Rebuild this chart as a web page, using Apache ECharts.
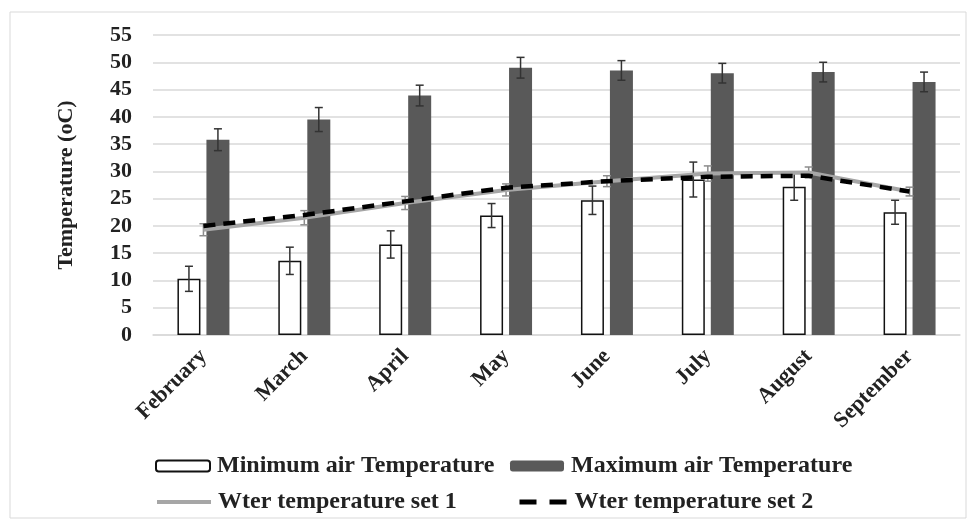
<!DOCTYPE html>
<html>
<head>
<meta charset="utf-8">
<title>Air and water temperature</title>
<script src="https://cdn.jsdelivr.net/npm/echarts@6/dist/echarts.min.js"></script>
<style>
  html, body { margin: 0; padding: 0; background: #fff; }
  #chart { width: 973px; height: 522px; }
</style>
</head>
<body>
<div id="chart"></div>
<script>
// values
const months = ["February", "March", "April", "May", "June", "July", "August", "September"];
const minAir = [10.3, 13.6, 16.6, 21.9, 24.7, 28.5, 27.2, 22.5];
const minAirErr = [2.3, 2.5, 2.5, 2.2, 2.6, 3.2, 2.5, 2.2];
const maxAir = [35.8, 39.5, 43.9, 49.0, 48.5, 48.0, 48.2, 46.4];
const maxAirErr = [2.0, 2.2, 1.9, 1.9, 1.8, 1.8, 1.8, 1.8];
const waterSet1 = [19.3, 21.5, 24.2, 26.6, 28.2, 29.6, 29.8, 26.3];
const waterSet1Err = [1.1, 1.3, 1.2, 1.1, 1.0, 1.4, 1.0, 0.8];
const waterSet2 = [20.0, 22.0, 24.5, 27.0, 28.2, 29.0, 29.2, 26.3];

const FONT = "'Liberation Serif', 'Times New Roman', serif";
const BAR_W = 23;
const BAR_GAP = 0.26;           // fraction of bar width
const SHIFT = (BAR_W + BAR_W * BAR_GAP) / 2;

// error bars drawn via custom series, x shifted to sit on the bar
function errorSeries(name, vals, errs, shift, color) {
  return {
    name: name,
    type: "custom",
    z: 4,
    silent: true,
    data: vals.map(function (v, i) { return [i, v, errs[i]]; }),
    renderItem: function (params, api) {
      const i = api.value(0), v = api.value(1), e = api.value(2);
      const top = api.coord([i, v + e]);
      const bot = api.coord([i, v - e]);
      const x = top[0] + shift;
      const cap = 4;
      const style = { stroke: color, lineWidth: 1.5 };
      return {
        type: "group",
        children: [
          { type: "line", shape: { x1: x, y1: top[1], x2: x, y2: bot[1] }, style: style },
          { type: "line", shape: { x1: x - cap, y1: top[1], x2: x + cap, y2: top[1] }, style: style },
          { type: "line", shape: { x1: x - cap, y1: bot[1], x2: x + cap, y2: bot[1] }, style: style }
        ]
      };
    }
  };
}

function legendAt(name, left, top, extra) {
  return Object.assign({
    data: [name],
    left: left,
    top: top,
    itemWidth: 54,
    itemHeight: 11,
    itemGap: 12,
    selectedMode: false,
    textStyle: { fontFamily: FONT, fontSize: 24, fontWeight: "bold", color: "#222", padding: [0, 0, 0, 2] }
  }, extra || {});
}

const chart = echarts.init(document.getElementById("chart"), null, { renderer: "canvas" });

const option = {
  animation: false,
  backgroundColor: "#fff",
  graphic: [{
    type: "rect",
    shape: { x: 10, y: 12, width: 956, height: 506 },
    style: { fill: "none", stroke: "#d9d9d9", lineWidth: 1 },
    silent: true,
    z: -1
  }],
  grid: { left: 153, right: 13, top: 35, bottom: 187, containLabel: false },
  legend: [
    legendAt("Minimum air Temperature", 150, 449, { itemStyle: { borderWidth: 2 } }),
    legendAt("Maximum air Temperature", 505, 449),
    legendAt("Wter temperature set 1", 150, 485, {
      itemHeight: 14,
      itemStyle: { opacity: 0 },
      lineStyle: { width: 4 }
    }),
    legendAt("Wter temperature set 2", 512, 485, {
      itemWidth: 48,
      itemHeight: 14,
      itemStyle: { opacity: 0 },
      lineStyle: { width: 5, type: [17, 13] }
    })
  ],
  xAxis: {
    type: "category",
    data: months,
    axisTick: { show: false },
    axisLine: { lineStyle: { color: "#d9d9d9", width: 1.5 } },
    axisLabel: {
      rotate: 45,
      margin: 18,
      interval: 0,
      fontFamily: FONT,
      fontSize: 22,
      fontWeight: "bold",
      color: "#222"
    }
  },
  yAxis: {
    type: "value",
    min: 0,
    max: 55,
    interval: 5,
    name: "Temperature (oC)",
    nameLocation: "middle",
    nameGap: 76,
    nameTextStyle: { fontFamily: FONT, fontSize: 22, fontWeight: "bold", color: "#222" },
    axisLine: { show: false },
    axisTick: { show: false },
    splitLine: { lineStyle: { color: "#d9d9d9", width: 1.5 } },
    axisLabel: {
      margin: 21,
      fontFamily: FONT,
      fontSize: 22,
      fontWeight: "bold",
      color: "#222"
    }
  },
  series: [
    {
      name: "Minimum air Temperature",
      type: "bar",
      data: minAir,
      barWidth: BAR_W,
      barGap: (BAR_GAP * 100) + "%",
      itemStyle: { color: "#fff", borderColor: "#111", borderWidth: 1.5 }
    },
    {
      name: "Maximum air Temperature",
      type: "bar",
      data: maxAir,
      barWidth: BAR_W,
      barGap: (BAR_GAP * 100) + "%",
      itemStyle: { color: "#595959" }
    },
    errorSeries("minErr", minAir, minAirErr, -SHIFT, "#333"),
    errorSeries("maxErr", maxAir, maxAirErr, SHIFT, "#333"),
    errorSeries("set1Err", waterSet1, waterSet1Err, 0, "#8c8c8c"),
    {
      name: "Wter temperature set 1",
      type: "line",
      data: waterSet1,
      z: 5,
      symbol: "none",
      lineStyle: { color: "#a6a6a6", width: 4 },
      itemStyle: { color: "#a6a6a6" }
    },
    {
      name: "Wter temperature set 2",
      type: "line",
      data: waterSet2,
      z: 6,
      symbol: "none",
      lineStyle: { color: "#000", width: 4.5, type: [12, 8] },
      itemStyle: { color: "#000" }
    }
  ]
};

chart.setOption(option);
</script>
</body>
</html>
